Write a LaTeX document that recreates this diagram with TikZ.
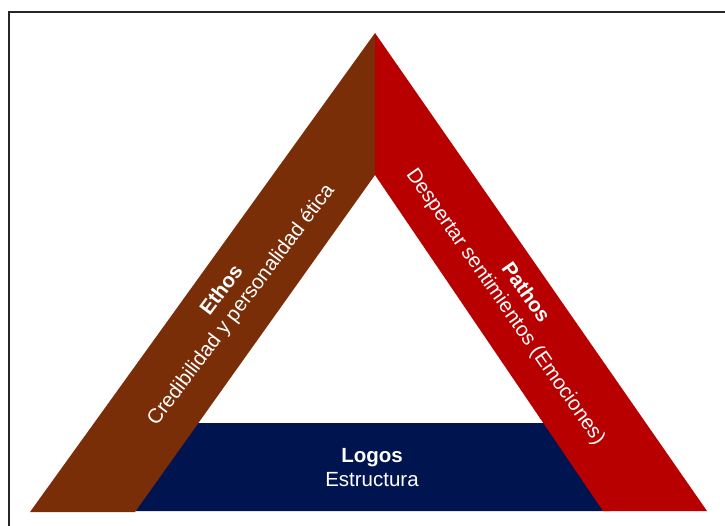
\documentclass[tikz,border=0pt]{standalone}
\usepackage{fontspec}
\setmainfont{Liberation Sans}
\definecolor{ethosbrown}{RGB}{122,46,8}
\definecolor{pathosred}{RGB}{184,0,0}
\definecolor{logosnavy}{RGB}{0,20,80}
\begin{document}
\begin{tikzpicture}[x=1pt,y=-1pt,
  bandtext/.style={text=white,align=center,font=\fontsize{20.5}{24}\selectfont,inner sep=0pt}]
  \useasboundingbox (0,0) rectangle (725,526);
  % outer frame, open to the right and bottom
  \draw[line width=2.6pt,black!85] (9,540) -- (9,12) -- (740,12);

  % corner points of the triangle
  \coordinate (apex) at (375,33);
  \coordinate (inapex) at (375,175);
  \coordinate (lout) at (30,512);
  \coordinate (lin) at (135,512);
  \coordinate (rin) at (603,511);
  \coordinate (rout) at (707,511);

  % base band, its sides tucked under the slanted bands
  \fill[logosnavy] (190,423) -- (552,423) -- (610,511) -- (128,511) -- cycle;
  % left band
  \fill[ethosbrown] (apex) -- (lout) -- (lin) -- (inapex) -- cycle;
  % right band
  \fill[pathosred] (apex) -- (inapex) -- (rin) -- (rout) -- cycle;

  \node[bandtext,rotate=53] (ethos) at (232,298)
    {\textbf{Ethos}\\Credibilidad y personalidad ética};
  \node[bandtext,rotate=-55] (pathos) at (515,300)
    {\textbf{Pathos}\\Despertar sentimientos (Emociones)};
  \node[bandtext] (logos) at (372,468)
    {\textbf{Logos}\\Estructura};
\end{tikzpicture}
\end{document}
